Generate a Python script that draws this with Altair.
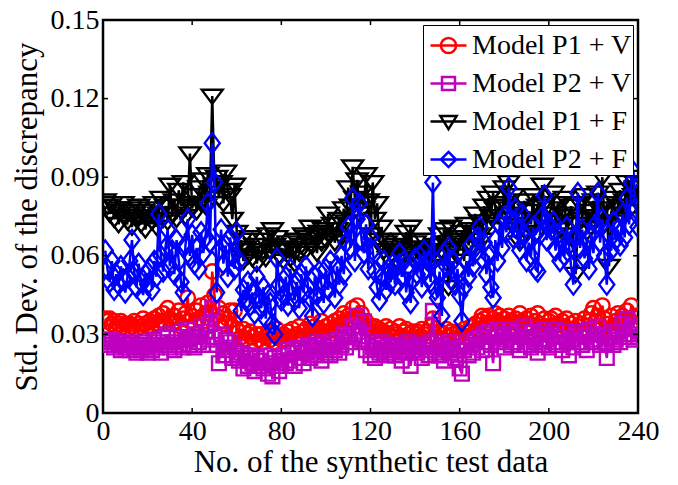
import altair as alt
import pandas as pd

# ---------------- data ----------------
x_vals = list(range(1, 241))

p1v = [  # Model P1 + V (red, circles)
    0.036, 0.035, 0.036, 0.034, 0.035, 0.033, 0.034, 0.035, 0.033, 0.034,
    0.032, 0.034, 0.033, 0.035, 0.032, 0.034, 0.033, 0.036, 0.034, 0.033,
    0.035, 0.033, 0.036, 0.034, 0.037, 0.035, 0.038, 0.034, 0.040, 0.036,
    0.034, 0.037, 0.035, 0.039, 0.033, 0.036, 0.038, 0.044, 0.035, 0.037,
    0.034, 0.039, 0.036, 0.041, 0.035, 0.038, 0.042, 0.036, 0.054, 0.045,
    0.037, 0.040, 0.035, 0.038, 0.034, 0.036, 0.039, 0.033, 0.039, 0.032,
    0.031, 0.029, 0.032, 0.028, 0.030, 0.031, 0.029, 0.027, 0.030, 0.028,
    0.030, 0.027, 0.029, 0.031, 0.028, 0.030, 0.027, 0.032, 0.029, 0.028,
    0.030, 0.028, 0.031, 0.029, 0.032, 0.028, 0.030, 0.033, 0.029, 0.031,
    0.032, 0.030, 0.034, 0.031, 0.033, 0.030, 0.032, 0.035, 0.031, 0.033,
    0.031, 0.034, 0.032, 0.035, 0.033, 0.036, 0.034, 0.038, 0.035, 0.037,
    0.036, 0.040, 0.037, 0.041, 0.036, 0.038, 0.034, 0.035, 0.032, 0.033,
    0.031, 0.033, 0.030, 0.032, 0.029, 0.031, 0.033, 0.030, 0.032, 0.029,
    0.031, 0.030, 0.033, 0.029, 0.031, 0.032, 0.030, 0.028, 0.031, 0.030,
    0.031, 0.029, 0.032, 0.030, 0.031, 0.028, 0.033, 0.036, 0.030, 0.029,
    0.031, 0.028, 0.030, 0.032, 0.029, 0.031, 0.030, 0.028, 0.031, 0.029,
    0.030, 0.032, 0.029, 0.031, 0.033, 0.030, 0.034, 0.032, 0.035, 0.037,
    0.036, 0.033, 0.037, 0.034, 0.036, 0.038, 0.035, 0.037, 0.033, 0.036,
    0.034, 0.037, 0.035, 0.033, 0.036, 0.034, 0.038, 0.035, 0.032, 0.036,
    0.034, 0.037, 0.033, 0.035, 0.038, 0.034, 0.032, 0.036, 0.033, 0.035,
    0.036, 0.033, 0.037, 0.034, 0.031, 0.035, 0.033, 0.036, 0.032, 0.034,
    0.031, 0.035, 0.033, 0.030, 0.034, 0.036, 0.032, 0.035, 0.038, 0.040,
    0.035, 0.037, 0.033, 0.041, 0.036, 0.026, 0.034, 0.037, 0.032, 0.035,
    0.038, 0.034, 0.037, 0.035, 0.039, 0.036, 0.041, 0.034, 0.037, 0.033,
]

p2v = [  # Model P2 + V (magenta, squares)
    0.028, 0.027, 0.026, 0.028, 0.025, 0.027, 0.026, 0.024, 0.027, 0.025,
    0.026, 0.024, 0.027, 0.025, 0.023, 0.026, 0.024, 0.027, 0.025, 0.023,
    0.026, 0.024, 0.028, 0.025, 0.027, 0.023, 0.029, 0.026, 0.030, 0.025,
    0.027, 0.024, 0.029, 0.026, 0.031, 0.025, 0.028, 0.032, 0.026, 0.029,
    0.025, 0.030, 0.027, 0.033, 0.026, 0.031, 0.028, 0.034, 0.040, 0.029,
    0.026, 0.019, 0.030, 0.022, 0.028, 0.024, 0.027, 0.021, 0.025, 0.022,
    0.020, 0.023, 0.017, 0.021, 0.018, 0.022, 0.019, 0.016, 0.021, 0.018,
    0.020, 0.017, 0.022, 0.015, 0.019, 0.014, 0.021, 0.018, 0.016, 0.020,
    0.022, 0.019, 0.024, 0.020, 0.023, 0.018, 0.025, 0.021, 0.024, 0.019,
    0.023, 0.026, 0.021, 0.025, 0.022, 0.027, 0.024, 0.020, 0.026, 0.023,
    0.025, 0.022, 0.027, 0.024, 0.028, 0.023, 0.026, 0.030, 0.025, 0.029,
    0.027, 0.033, 0.030, 0.037, 0.031, 0.028, 0.035, 0.024, 0.027, 0.022,
    0.025, 0.021, 0.026, 0.023, 0.027, 0.024, 0.022, 0.026, 0.023, 0.025,
    0.022, 0.026, 0.024, 0.020, 0.025, 0.023, 0.027, 0.018, 0.024, 0.026,
    0.023, 0.025, 0.021, 0.026, 0.024, 0.022, 0.027, 0.039, 0.023, 0.025,
    0.022, 0.026, 0.020, 0.024, 0.027, 0.023, 0.025, 0.021, 0.024, 0.017,
    0.015, 0.024, 0.027, 0.022, 0.026, 0.023, 0.028, 0.025, 0.029, 0.024,
    0.030, 0.027, 0.031, 0.026, 0.019, 0.029, 0.032, 0.027, 0.030, 0.025,
    0.028, 0.032, 0.026, 0.030, 0.027, 0.031, 0.024, 0.029, 0.033, 0.026,
    0.029, 0.025, 0.031, 0.027, 0.023, 0.030, 0.026, 0.032, 0.028, 0.025,
    0.030, 0.027, 0.032, 0.026, 0.029, 0.024, 0.031, 0.027, 0.022, 0.028,
    0.025, 0.030, 0.027, 0.031, 0.026, 0.029, 0.024, 0.032, 0.027, 0.030,
    0.028, 0.033, 0.026, 0.030, 0.027, 0.021, 0.029, 0.031, 0.026, 0.028,
    0.031, 0.027, 0.034, 0.029, 0.036, 0.030, 0.033, 0.028, 0.032, 0.029,
]

p1f = [  # Model P1 + F (black, down triangles)
    0.081, 0.079, 0.076, 0.080, 0.074, 0.078, 0.072, 0.077, 0.080, 0.075,
    0.073, 0.078, 0.071, 0.076, 0.074, 0.079, 0.072, 0.077, 0.070, 0.075,
    0.078, 0.073, 0.080, 0.071, 0.076, 0.082, 0.074, 0.079, 0.073, 0.087,
    0.076, 0.081, 0.074, 0.085, 0.079, 0.088, 0.075, 0.080, 0.099, 0.078,
    0.083, 0.077, 0.086, 0.080, 0.089, 0.079, 0.091, 0.084, 0.121, 0.087,
    0.090, 0.082, 0.088, 0.080, 0.092, 0.085, 0.083, 0.074, 0.087, 0.069,
    0.062, 0.066, 0.058, 0.063, 0.060, 0.067, 0.059, 0.064, 0.057, 0.062,
    0.061, 0.066, 0.059, 0.068, 0.062, 0.070, 0.064, 0.067, 0.060, 0.063,
    0.058, 0.062, 0.065, 0.059, 0.063, 0.057, 0.066, 0.061, 0.064, 0.068,
    0.062, 0.067, 0.071, 0.064, 0.068, 0.061, 0.069, 0.065, 0.070, 0.066,
    0.076, 0.068, 0.072, 0.065, 0.070, 0.074, 0.067, 0.078, 0.073, 0.086,
    0.079, 0.094, 0.082, 0.089, 0.076, 0.084, 0.078, 0.091, 0.081, 0.068,
    0.088, 0.074, 0.080, 0.066, 0.071, 0.062, 0.065, 0.059, 0.063, 0.060,
    0.064, 0.058, 0.062, 0.066, 0.060, 0.069, 0.063, 0.071, 0.061, 0.065,
    0.059, 0.063, 0.060, 0.066, 0.058, 0.062, 0.056, 0.061, 0.064, 0.060,
    0.068, 0.062, 0.070, 0.065, 0.048, 0.071, 0.063, 0.067, 0.060, 0.066,
    0.069, 0.058, 0.072, 0.064, 0.070, 0.063, 0.076, 0.068, 0.073, 0.066,
    0.079, 0.071, 0.082, 0.075, 0.084, 0.078, 0.072, 0.080, 0.074, 0.086,
    0.079, 0.088, 0.076, 0.083, 0.070, 0.078, 0.065, 0.074, 0.081, 0.069,
    0.077, 0.072, 0.083, 0.068, 0.079, 0.074, 0.087, 0.080, 0.071, 0.076,
    0.078, 0.084, 0.073, 0.080, 0.070, 0.076, 0.082, 0.068, 0.075, 0.079,
    0.066, 0.053, 0.072, 0.080, 0.074, 0.083, 0.069, 0.077, 0.071, 0.081,
    0.075, 0.084, 0.078, 0.090, 0.072, 0.080, 0.056, 0.076, 0.082, 0.073,
    0.079, 0.085, 0.074, 0.081, 0.088, 0.077, 0.090, 0.083, 0.086, 0.080,
]

p2f = [  # Model P2 + F (blue, diamonds)
    0.062, 0.055, 0.050, 0.058, 0.047, 0.053, 0.049, 0.056, 0.051, 0.046,
    0.052, 0.058, 0.066, 0.054, 0.048, 0.057, 0.050, 0.045, 0.053, 0.049,
    0.055, 0.047, 0.058, 0.052, 0.076, 0.060, 0.054, 0.063, 0.070, 0.056,
    0.062, 0.053, 0.066, 0.058, 0.050, 0.046, 0.064, 0.074, 0.060, 0.068,
    0.057, 0.063, 0.055, 0.069, 0.061, 0.067, 0.080, 0.065, 0.103, 0.088,
    0.046, 0.062, 0.070, 0.057, 0.064, 0.052, 0.067, 0.060, 0.055, 0.069,
    0.058, 0.039, 0.047, 0.043, 0.050, 0.041, 0.046, 0.038, 0.052, 0.044,
    0.040, 0.048, 0.036, 0.045, 0.042, 0.034, 0.030, 0.059, 0.049, 0.043,
    0.045, 0.052, 0.041, 0.055, 0.047, 0.043, 0.050, 0.040, 0.053, 0.046,
    0.056, 0.048, 0.044, 0.037, 0.052, 0.045, 0.054, 0.049, 0.042, 0.055,
    0.047, 0.058, 0.051, 0.044, 0.056, 0.049, 0.060, 0.053, 0.065, 0.071,
    0.063, 0.082, 0.058, 0.074, 0.080, 0.066, 0.061, 0.072, 0.055, 0.067,
    0.062, 0.054, 0.048, 0.043, 0.052, 0.058, 0.047, 0.055, 0.050, 0.057,
    0.049, 0.056, 0.061, 0.052, 0.058, 0.046, 0.054, 0.042, 0.051, 0.059,
    0.053, 0.060, 0.048, 0.062, 0.055, 0.058, 0.050, 0.088, 0.047, 0.044,
    0.054, 0.037, 0.061, 0.056, 0.063, 0.051, 0.058, 0.049, 0.055, 0.045,
    0.035, 0.048, 0.058, 0.052, 0.064, 0.056, 0.061, 0.067, 0.071, 0.059,
    0.065, 0.053, 0.060, 0.048, 0.044, 0.066, 0.058, 0.072, 0.063, 0.075,
    0.069, 0.086, 0.074, 0.067, 0.078, 0.070, 0.062, 0.076, 0.068, 0.058,
    0.065, 0.060, 0.071, 0.055, 0.054, 0.068, 0.075, 0.083, 0.066, 0.072,
    0.070, 0.073, 0.062, 0.068, 0.058, 0.066, 0.060, 0.071, 0.064, 0.056,
    0.049, 0.067, 0.084, 0.063, 0.070, 0.059, 0.066, 0.055, 0.068, 0.061,
    0.072, 0.084, 0.065, 0.074, 0.060, 0.049, 0.068, 0.062, 0.073, 0.066,
    0.070, 0.064, 0.076, 0.067, 0.082, 0.072, 0.088, 0.092, 0.078, 0.071,
]

names = ["Model P1 + V", "Model P2 + V", "Model P1 + F", "Model P2 + F"]
colors = ["#ff0000", "#bf00bf", "#000000", "#0000ff"]
x_ticks = [0, 40, 80, 120, 160, 200, 240]
y_ticks = [0, 0.03, 0.06, 0.09, 0.12, 0.15]

# ---------------- styling ----------------
W, H = 535, 393
FONT = "Liberation Serif, DejaVu Serif"
TICK_LEN = 5

data_shapes = [
    "circle",
    "square",
    "M-1,-0.6L1,-0.6L0,0.75Z",
    "M0,-1L0.75,0L0,1L-0.75,0Z",
]
data_sizes = [210, 190, 440, 400]

legend_shapes = [
    "M-1,0L1,0M0.42,0A0.42,0.42,0,1,1,-0.42,0A0.42,0.42,0,1,1,0.42,0",
    "M-1,0L1,0M-0.36,-0.36L0.36,-0.36L0.36,0.36L-0.36,0.36Z",
    "M-1,0L1,0M-0.45,-0.3L0.45,-0.3L0,0.42Z",
    "M-1,0L1,0M0,-0.42L0.42,0L0,0.42L-0.42,0Z",
]

x_scale = alt.Scale(domain=[0, 240], nice=False, zero=False)
y_scale = alt.Scale(domain=[0, 0.15], nice=False, zero=False)

axis_x = alt.Axis(
    values=x_ticks, title="No. of the synthetic test data", ticks=False,
    domain=False, grid=False, labelFont=FONT, labelFontSize=28,
    labelColor="black", labelPadding=4, labelFlush=False, labelOverlap=False,
    titleFont=FONT, titleFontSize=31, titleFontWeight="normal",
    titleColor="black", titlePadding=2,
)
axis_y = alt.Axis(
    values=y_ticks, format=".2~f", title="Std. Dev. of the discrepancy",
    ticks=False, domain=False, grid=False, labelFont=FONT, labelFontSize=28,
    labelColor="black", labelPadding=4, labelFlush=False, labelOverlap=False,
    titleFont=FONT, titleFontSize=31, titleFontWeight="normal",
    titleColor="black", titlePadding=7,
)


def X(field):
    return alt.X(field, type="quantitative", scale=x_scale, axis=axis_x)


def Y(field):
    return alt.Y(field, type="quantitative", scale=y_scale, axis=axis_y)


layers = []
for vals, col, shp, sz in zip([p1v, p2v, p1f, p2f], colors, data_shapes, data_sizes):
    df = pd.DataFrame({"x": x_vals, "y": vals})
    base = alt.Chart(df)
    layers.append(
        base.mark_line(strokeWidth=2.5, clip=True).encode(
            x=X("x"), y=Y("y"), color=alt.value(col)
        )
    )
    layers.append(
        base.mark_point(filled=False, strokeWidth=2.4, opacity=1, clip=True).encode(
            x=X("x"), y=Y("y"), color=alt.value(col),
            shape=alt.value(shp), size=alt.value(sz)
        )
    )

# legend-only layer (no visible marks)
leg = alt.Legend(
    title=None, orient="none", legendX=320, legendY=5, padding=1,
    rowPadding=4, symbolOffset=5, labelOffset=4, symbolSize=1296,
    symbolStrokeWidth=2.5, labelFont=FONT, labelFontSize=28,
    labelColor="black", labelLimit=0, strokeColor="black", fillColor="white",
    labelExpr="datum.label + '\u00a0\u00a0\u00a0\u00a0\u00a0'",
)
leg_df = pd.DataFrame({"series": names})
legend_layer = alt.Chart(leg_df).mark_point(
    filled=False, opacity=1, strokeWidth=2.5
).encode(
    color=alt.Color("series:N", scale=alt.Scale(domain=names, range=colors), legend=leg),
    shape=alt.Shape("series:N", scale=alt.Scale(domain=names, range=legend_shapes), legend=leg),
).transform_filter("false")

# inward ticks on all four sides
xt = alt.Chart(pd.DataFrame({"t": x_ticks}))
yt = alt.Chart(pd.DataFrame({"t": y_ticks}))
tick_layers = [
    xt.mark_rule(color="black", strokeWidth=1.5).encode(
        x=X("t"), y=alt.value(H), y2=alt.value(H - TICK_LEN)),
    xt.mark_rule(color="black", strokeWidth=1.5).encode(
        x=X("t"), y=alt.value(0), y2=alt.value(TICK_LEN)),
    yt.mark_rule(color="black", strokeWidth=1.5).encode(
        y=Y("t"), x=alt.value(0), x2=alt.value(TICK_LEN)),
    yt.mark_rule(color="black", strokeWidth=1.5).encode(
        y=Y("t"), x=alt.value(W), x2=alt.value(W - TICK_LEN)),
]

chart = alt.layer(*layers, *tick_layers, legend_layer).properties(
    width=W, height=H,
    autosize=alt.AutoSizeParams(type="none"),
    padding={"left": 103, "top": 20, "right": 40, "bottom": 72},
    background="white",
).configure_view(stroke="black", strokeWidth=2.5)

chart.save("out.html", embed_options={"renderer": "svg", "actions": False})
